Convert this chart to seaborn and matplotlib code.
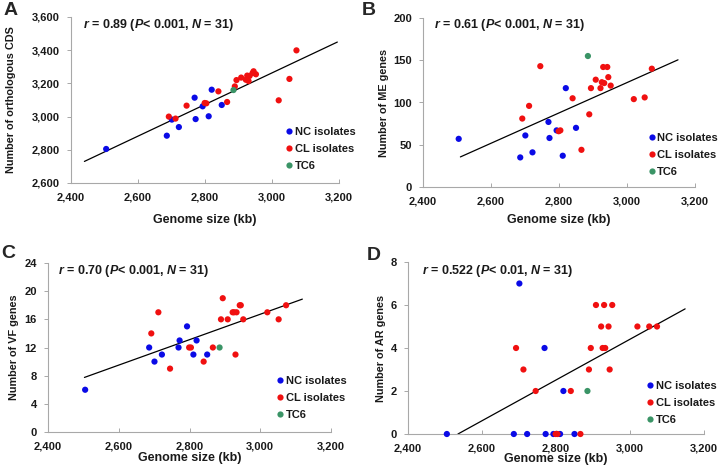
import numpy as np
import pandas as pd
import matplotlib.pyplot as plt
import seaborn as sns

# genome sizes (kb) of the three groups, same for all panels
nc_size = [2505, 2686, 2701, 2722, 2769, 2772, 2793, 2811, 2820, 2850]
cl_size = [2692, 2712, 2745, 2799, 2804, 2840, 2866, 2889, 2894, 2908,
           2922, 2926, 2930, 2933, 2942, 2945, 2952, 3020, 3052, 3073]
tc6_size = [2885]

# A - orthologous CDS
cds_nc = [2805, 2885, 2982, 2937, 3114, 2985, 3062, 3002, 3162, 3070]
cds_cl = [3000, 2988, 3066, 3082, 3080, 3152, 3088, 3182, 3220, 3235,
          3222, 3247, 3214, 3245, 3262, 3273, 3255, 3098, 3227, 3399]
cds_tc6 = [3160]

# B - ME genes
me_nc = [57, 35, 61, 41, 77, 58, 67, 37, 117, 70]
me_cl = [81, 96, 143, 66, 67, 105, 44, 86, 117, 127,
         117, 124, 142, 123, 142, 130, 120, 104, 106, 140]
me_tc6 = [155]

# C - VF genes
vf_nc = [6, 12, 10, 11, 12, 13, 15, 11, 13, 11]
vf_cl = [14, 17, 9, 12, 12, 10, 12, 16, 19, 16,
         17, 17, 11, 17, 18, 18, 16, 17, 16, 18]
vf_tc6 = [12]

# D - AR genes
ar_nc = [0, 0, 7, 0, 4, 0, 0, 0, 2, 0]
ar_cl = [4, 3, 2, 0, 0, 2, 0, 3, 4, 6,
         5, 4, 6, 4, 5, 3, 6, 5, 5, 5]
ar_tc6 = [2]

# trend line end points
line_a = ([2440, 3195], [2730, 3449])
line_b = ([2510, 3150], [35.6, 150.5])
line_c = ([2503, 3119], [7.75, 18.87])
line_d = ([2535, 3149], [0.0, 5.82])

notes = ['$r$ = 0.89 ($P$< 0.001, $N$ = 31)',
         '$r$ = 0.61 ($P$< 0.001, $N$ = 31)',
         '$r$ = 0.70 ($P$< 0.001, $N$ = 31)',
         '$r$ = 0.522 ($P$< 0.01, $N$ = 31)']
ylabels = ['Number of orthologous CDS', 'Number of ME genes',
           'Number of VF genes', 'Number of AR genes']
yticks_all = [[2600, 2800, 3000, 3200, 3400, 3600],
              [0, 50, 100, 150, 200],
              [0, 4, 8, 12, 16, 20, 24],
              [0, 2, 4, 6, 8]]
xticks = [2400, 2600, 2800, 3000, 3200]
letters = ['A', 'B', 'C', 'D']

groups = ['NC isolates', 'CL isolates', 'TC6']
palette = {'NC isolates': '#0a0ae6', 'CL isolates': '#f01010', 'TC6': '#3a9466'}

sns.set_theme(style='white')
plt.rcParams['font.family'] = ['Liberation Sans', 'DejaVu Sans']
plt.rcParams['mathtext.fontset'] = 'custom'
plt.rcParams['mathtext.it'] = 'Liberation Sans:italic:bold'
plt.rcParams['mathtext.rm'] = 'Liberation Sans:bold'

W, H = 720, 473
fig = plt.figure(figsize=(W / 100, H / 100), dpi=100)

# axes boxes in pixels: left, right, top, bottom
boxes = [(71, 339, 17, 183), (423, 695, 18, 187),
         (48, 331, 263, 432), (408, 704, 262, 434)]
note_pos = [(0.045, 0.95), (0.04, 0.96), (0.034, 0.954), (0.048, 0.948)]
leg_pos = [(0.772, 0.372), (0.80, 0.352), (0.782, 0.362), (0.78, 0.342)]
letter_pos = [(4, 2), (362, 2), (1, 245), (367, 247)]
ylab_x = [-0.205, -0.126, -0.101, -0.075]
xlab_y = [-0.187, -0.162, -0.119, -0.111]

values = [(cds_nc, cds_cl, cds_tc6), (me_nc, me_cl, me_tc6),
          (vf_nc, vf_cl, vf_tc6), (ar_nc, ar_cl, ar_tc6)]
lines = [line_a, line_b, line_c, line_d]

for i in range(4):
    l, r, t, b = boxes[i]
    ax = fig.add_axes([l / W, 1 - b / H, (r - l) / W, (b - t) / H])
    vnc, vcl, vtc = values[i]
    df = pd.DataFrame({
        'size': nc_size + cl_size + tc6_size,
        'value': vnc + vcl + vtc,
        'group': [groups[0]] * len(nc_size) + [groups[1]] * len(cl_size)
                 + [groups[2]] * len(tc6_size),
    })
    ax.plot(lines[i][0], lines[i][1], color='black', lw=0.9, zorder=1)
    sns.scatterplot(data=df, x='size', y='value', hue='group', hue_order=groups,
                    palette=palette, s=20, linewidth=0, ax=ax, zorder=3,
                    clip_on=False)

    yt = yticks_all[i]
    ax.set_xlim(2400, 3200)
    ax.set_ylim(yt[0], yt[-1])
    ax.set_xticks(xticks)
    ax.set_xticklabels([f'{v:,}' for v in xticks])
    ax.set_yticks(yt)
    ax.set_yticklabels([f'{v:,}' for v in yt])
    for s in ['top', 'right']:
        ax.spines[s].set_visible(False)
    for s in ['left', 'bottom']:
        ax.spines[s].set_color('#a8a8a8')
        ax.spines[s].set_linewidth(0.8)
    ax.tick_params(axis='x', direction='in', length=3, width=0.7,
                   color='#a8a8a8', pad=6.5, labelsize=8)
    ax.tick_params(axis='y', direction='out', length=3, width=0.7,
                   color='#a8a8a8', pad=5, labelsize=8)
    ax.tick_params(left=True, bottom=True)
    for lab in ax.get_xticklabels() + ax.get_yticklabels():
        lab.set_fontweight('bold')
        lab.set_color('#1a1a1a')
    ax.set_xlabel('Genome size (kb)', fontsize=9, fontweight='bold',
                  color='#1a1a1a')
    ax.set_ylabel(ylabels[i], fontsize=7.8, fontweight='bold',
                  color='#1a1a1a')
    ax.yaxis.set_label_coords(ylab_x[i], 0.5)
    ax.xaxis.set_label_coords(0.5, xlab_y[i])

    ax.text(note_pos[i][0], note_pos[i][1], notes[i], transform=ax.transAxes,
            fontsize=9, fontweight='bold', color='#1a1a1a', va='center', ha='left')

    sns.move_legend(ax, 'upper left', bbox_to_anchor=leg_pos[i], title=None,
                    frameon=False, fontsize=8, handletextpad=0.0,
                    labelspacing=0.62, borderpad=0, markerscale=1.0,
                    handlelength=1.0)
    for txt in ax.get_legend().get_texts():
        txt.set_fontweight('bold')
        txt.set_color('#1a1a1a')

    fig.text(letter_pos[i][0] / W, 1 - letter_pos[i][1] / H, letters[i],
             fontsize=14, fontweight='bold', va='top', ha='left')

plt.savefig('out.png', dpi=100)
